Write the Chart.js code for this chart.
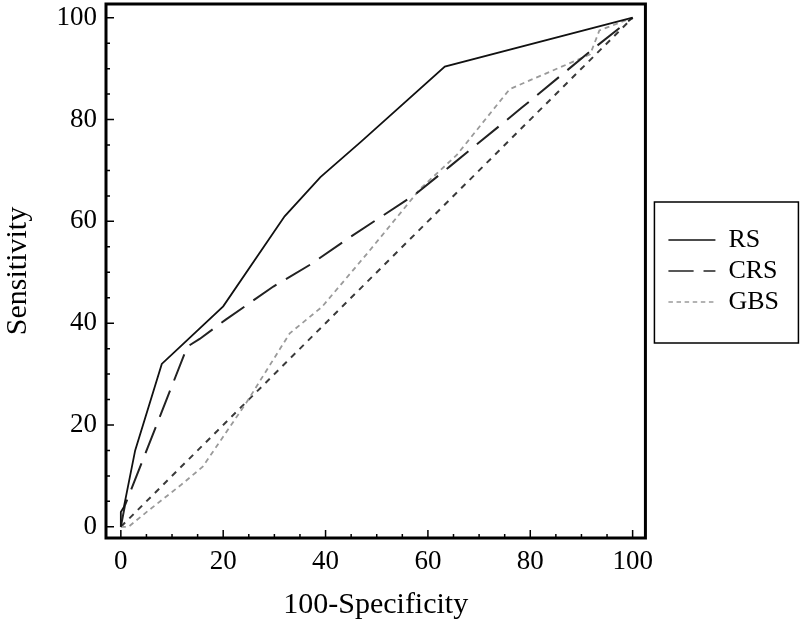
<!DOCTYPE html>
<html>
<head>
<meta charset="utf-8">
<script src="https://cdn.jsdelivr.net/npm/chart.js@4.4.1/dist/chart.umd.min.js"></script>
<style>
  html, body { margin: 0; padding: 0; background: #fff; }
  #wrap { width: 800px; height: 629px; }
</style>
</head>
<body>
<div id="wrap"><canvas id="rocChart"></canvas></div>
<script>
// ROC curves
var rsX  = [0, 0, 0.6, 2.8, 8, 11.2, 20, 32, 39, 47, 63.3, 100];
var rsY  = [0, 2.9, 3.9, 15, 32, 35, 43.3, 61, 68.7, 75.7, 90.4, 100];

var crsX = [0, 0.8, 13, 15.4, 20.5, 29.8, 37, 44.5, 57.5, 64.3, 78.3, 92.8, 100];
var crsY = [0, 4.2, 35.4, 36.9, 40.7, 47.2, 51.5, 56.7, 65.3, 70.8, 82.3, 94.3, 100];

var gbsX = [0, 1.5, 5.4, 11.6, 16, 24.6, 33, 39.3, 48.4, 58.5, 65.6, 76, 91.7, 93.5, 100];
var gbsY = [0, 0, 3.2, 8.1, 11.8, 24.5, 38, 43.2, 54, 66.4, 73, 86, 92.8, 97.5, 100];

// reference diagonal
var refX = [0, 100];
var refY = [0, 100];

var xTicks = [0, 20, 40, 60, 80, 100];
var yTicks = [0, 20, 40, 60, 80, 100];
var minorStep = 5;

function pts(xs, ys) {
  return xs.map(function (x, i) { return { x: x, y: ys[i] }; });
}

var serif = "'Liberation Serif', 'Times New Roman', serif";

// inward ticks + frame around the plot
var framePlugin = {
  id: 'frame',
  afterDraw: function (chart) {
    var ctx = chart.ctx, a = chart.chartArea;
    var xs = chart.scales.x, ys = chart.scales.y;
    ctx.save();
    ctx.strokeStyle = '#000';
    ctx.lineWidth = 1.5;
    ctx.beginPath();
    for (var v = 0; v <= 100; v += minorStep) {
      var len = v % 20 === 0 ? 8 : 4;
      var px = xs.getPixelForValue(v);
      ctx.moveTo(px, a.bottom);
      ctx.lineTo(px, a.bottom - len);
      var py = ys.getPixelForValue(v);
      ctx.moveTo(a.left, py);
      ctx.lineTo(a.left + len, py);
    }
    ctx.stroke();
    ctx.lineWidth = 3;
    ctx.strokeRect(a.left, a.top, a.right - a.left, a.bottom - a.top);

    // box round the legend
    var hb = chart.legend.legendHitBoxes;
    if (hb && hb.length) {
      var first = hb[0], last = hb[hb.length - 1];
      ctx.lineWidth = 1.5;
      ctx.strokeRect(first.left - 14, first.top - 25, 144, last.top + last.height + 28 - (first.top - 25));
    }
    ctx.restore();
  }
};

function noPad(s) {
  s.paddingTop = 0; s.paddingBottom = 0;
  s.paddingLeft = 0; s.paddingRight = 0;
}

var ctx = document.getElementById('rocChart').getContext('2d');
var rocChart = new Chart(ctx, {
  type: 'scatter',
  data: {
    datasets: [{
      label: 'RS',
      data: pts(rsX, rsY),
      borderColor: '#111',
      borderWidth: 1.8
    }, {
      label: 'CRS',
      data: pts(crsX, crsY),
      borderColor: '#222',
      borderWidth: 2,
      borderDash: [28, 11]
    }, {
      label: 'GBS',
      data: pts(gbsX, gbsY),
      borderColor: '#9a9a9a',
      borderWidth: 1.8,
      borderDash: [5, 4]
    }, {
      label: 'ref',
      data: pts(refX, refY),
      borderColor: '#3a3a3a',
      borderWidth: 2,
      borderDash: [6, 6]
    }]
  },
  options: {
    responsive: true,
    maintainAspectRatio: false,
    animation: false,
    showLine: true,
    elements: {
      point: { radius: 0, hoverRadius: 0 },
      line: { tension: 0, fill: false }
    },
    layout: { padding: { top: 4, right: 11, bottom: 0, left: 0 } },
    plugins: {
      tooltip: { enabled: false },
      legend: {
        position: 'right',
        fullSize: false,
        labels: {
          filter: function (item) { return item.text !== 'ref'; },
          usePointStyle: true,
          pointStyle: 'line',
          pointStyleWidth: 47,
          boxHeight: 10,
          padding: 5,
          color: '#000',
          font: { family: serif, size: 26 },
          generateLabels: function (chart) {
            var items = Chart.defaults.plugins.legend.labels.generateLabels(chart);
            items.forEach(function (it) {
              var ds = chart.data.datasets[it.datasetIndex];
              it.pointStyle = 'line';
              it.strokeStyle = ds.borderColor;
              it.lineWidth = 1.5;
              it.lineDash = ds.borderDash ? ds.borderDash.map(function (d) { return d * 0.9; }) : [];
            });
            return items;
          }
        }
      }
    },
    scales: {
      x: {
        type: 'linear',
        min: -2.9,
        max: 102.5,
        grid: { display: false, drawTicks: false },
        border: { display: false },
        afterFit: function (s) { s.height = 91; noPad(s); },
        afterBuildTicks: function (s) { s.ticks = xTicks.map(function (v) { return { value: v }; }); },
        ticks: { color: '#000', padding: 8, maxRotation: 0, font: { family: serif, size: 27 } },
        title: {
          display: true,
          text: '100-Specificity',
          color: '#000',
          padding: { top: 0, bottom: 6 },
          font: { family: serif, size: 30 }
        }
      },
      y: {
        type: 'linear',
        min: -2.2,
        max: 102.7,
        grid: { display: false, drawTicks: false },
        border: { display: false },
        afterFit: function (s) { s.width = 106; noPad(s); },
        afterBuildTicks: function (s) { s.ticks = yTicks.map(function (v) { return { value: v }; }); },
        ticks: { color: '#000', padding: 9, font: { family: serif, size: 27 } },
        title: {
          display: true,
          text: 'Sensitivity',
          color: '#000',
          padding: { top: 0, bottom: 0 },
          font: { family: serif, size: 30 }
        }
      },
      gap: {
        type: 'linear',
        position: 'right',
        display: true,
        grid: { display: false, drawTicks: false },
        border: { display: false },
        ticks: { display: false },
        afterFit: function (s) { s.width = 18; noPad(s); }
      }
    }
  },
  plugins: [framePlugin]
});
</script>
</body>
</html>
